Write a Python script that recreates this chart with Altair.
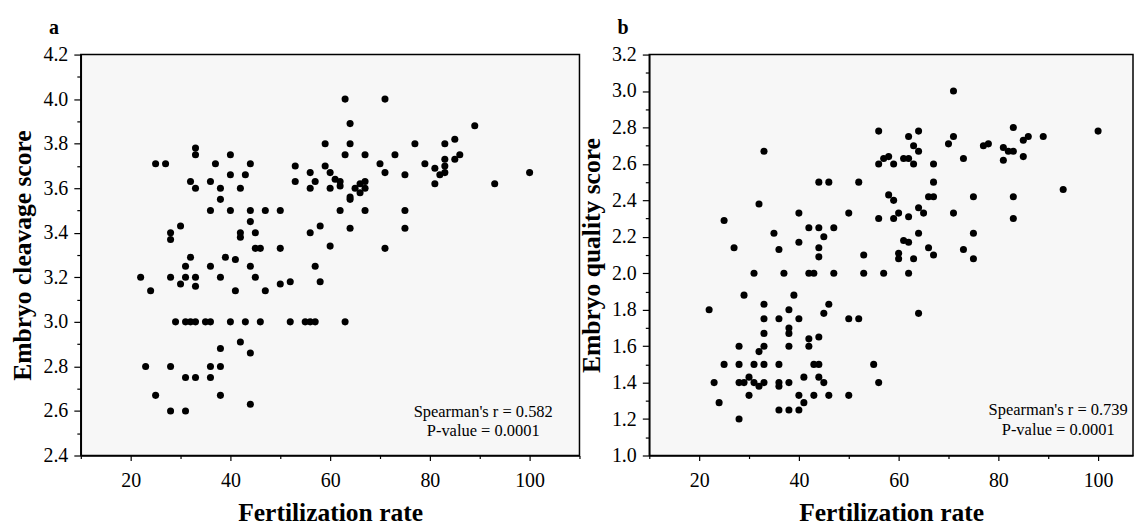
import altair as alt
import pandas as pd

FONT = "Liberation Serif"

# ---------------- Panel a : Fertilization rate vs Embryo cleavage score ----------------
a_fert = [25, 27, 33, 33, 37, 40, 44, 32, 33, 36, 38, 38, 40, 43, 42,
          36, 40, 44, 47, 50, 44, 45, 42, 42, 45, 46, 50, 28, 28, 30,
          53, 53, 32, 39, 41, 22, 24, 28, 30, 31, 31, 33, 33, 36, 38,
          41, 44, 45, 47, 50, 52,
          29, 31, 32, 33, 35, 36, 40, 43, 46, 52,
          42, 38, 44, 23, 28, 36, 38, 31, 33, 36, 25, 38, 44, 28, 31,
          63, 71, 64, 89, 59, 64, 77, 83, 85, 63, 67, 73, 86, 83, 85,
          59, 70, 79, 83, 81, 60, 56, 71, 82, 83, 75, 100, 57, 56, 61,
          62, 62, 60, 67, 66, 65, 67, 66, 64, 64, 81, 93, 62, 67, 75,
          58, 56, 64, 75, 60, 71, 57, 58,
          55, 56, 57, 63]
a_score = [3.71, 3.71, 3.78, 3.75, 3.71, 3.75, 3.71, 3.63, 3.60, 3.63, 3.60, 3.55, 3.66, 3.66, 3.60,
           3.50, 3.50, 3.50, 3.50, 3.50, 3.45, 3.40, 3.40, 3.38, 3.33, 3.33, 3.33, 3.40, 3.37, 3.43,
           3.70, 3.63, 3.29, 3.29, 3.28, 3.20, 3.14, 3.20, 3.17, 3.20, 3.25, 3.20, 3.16, 3.25, 3.20,
           3.14, 3.25, 3.20, 3.14, 3.17, 3.18,
           3.00, 3.00, 3.00, 3.00, 3.00, 3.00, 3.00, 3.00, 3.00, 3.00,
           2.91, 2.88, 2.86, 2.80, 2.80, 2.80, 2.80, 2.75, 2.75, 2.75, 2.67, 2.67, 2.63, 2.60, 2.60,
           4.00, 4.00, 3.89, 3.88, 3.80, 3.80, 3.80, 3.80, 3.82, 3.75, 3.75, 3.75, 3.75, 3.73, 3.73,
           3.70, 3.71, 3.71, 3.70, 3.69, 3.67, 3.67, 3.67, 3.66, 3.67, 3.66, 3.67, 3.63, 3.60, 3.64,
           3.63, 3.61, 3.60, 3.63, 3.62, 3.60, 3.60, 3.58, 3.56, 3.55, 3.62, 3.62, 3.50, 3.50, 3.50,
           3.43, 3.40, 3.42, 3.42, 3.34, 3.33, 3.25, 3.18,
           3.00, 3.00, 3.00, 3.00]

# ---------------- Panel b : Fertilization rate vs Embryo quality score ----------------
b_fert = [33, 25, 27, 32, 35, 36, 40, 40, 42, 44, 44, 46, 44, 44, 45, 47, 50, 52,
          31, 37, 42, 43, 47,
          29, 39, 22, 33, 38, 46, 45,
          33, 36, 40, 50, 52,
          38, 38, 33, 44, 42,
          28, 33, 38, 42,
          32,
          25, 28, 31, 33, 36, 43, 44,
          23, 28, 29, 31, 33, 36, 38, 30, 32, 36, 41, 44, 45,
          30, 40, 43, 46, 50,
          24, 41,
          36, 38, 40,
          28,
          71, 56, 64, 100, 83, 62, 71, 89, 86, 85, 63, 64, 70, 77, 78, 81, 82, 83, 81, 85,
          57, 58, 56, 59, 61, 62, 63, 67, 73, 67, 58, 59, 66, 67, 75, 83, 93, 56, 59, 60,
          62, 64, 65, 71, 83, 64, 75, 61, 62, 53, 60, 60, 63, 66, 67, 73, 75,
          53, 57, 62, 64, 55, 56]
b_score = [2.67, 2.29, 2.14, 2.38, 2.22, 2.13, 2.33, 2.17, 2.25, 2.25, 2.50, 2.50, 2.14, 2.09, 2.20, 2.25, 2.33, 2.50,
           2.00, 2.00, 2.00, 2.00, 2.00,
           1.88, 1.88, 1.80, 1.83, 1.80, 1.83, 1.78,
           1.75, 1.75, 1.75, 1.75, 1.75,
           1.70, 1.67, 1.67, 1.65, 1.64,
           1.60, 1.60, 1.60, 1.60,
           1.57,
           1.50, 1.50, 1.50, 1.50, 1.50, 1.50, 1.50,
           1.40, 1.40, 1.40, 1.40, 1.40, 1.40, 1.40, 1.43, 1.38, 1.38, 1.43, 1.43, 1.40,
           1.33, 1.33, 1.33, 1.33, 1.33,
           1.29, 1.29,
           1.25, 1.25, 1.25,
           1.20,
           3.00, 2.78, 2.78, 2.78, 2.80, 2.75, 2.75, 2.75, 2.75, 2.73, 2.70, 2.67, 2.71, 2.70, 2.71, 2.69, 2.67, 2.67, 2.62, 2.64,
           2.63, 2.64, 2.60, 2.60, 2.63, 2.63, 2.60, 2.60, 2.63, 2.50, 2.43, 2.40, 2.42, 2.42, 2.42, 2.42, 2.46, 2.30, 2.30, 2.33,
           2.31, 2.36, 2.33, 2.33, 2.30, 2.22, 2.22, 2.18, 2.17, 2.10, 2.11, 2.08, 2.08, 2.14, 2.10, 2.13, 2.08,
           2.00, 2.00, 2.00, 1.78, 1.50, 1.40]

# ---------------- axes / annotations ----------------
a_x_domain = [10, 110]
b_x_domain = [10, 107]
x_ticks = [10, 20, 30, 40, 50, 60, 70, 80, 90, 100, 110]
a_domain = [2.4, 4.2]
a_ticks = [2.4, 2.5, 2.6, 2.7, 2.8, 2.9, 3.0, 3.1, 3.2, 3.3, 3.4, 3.5, 3.6, 3.7, 3.8, 3.9, 4.0, 4.1, 4.2]
b_domain = [1.0, 3.2]
b_ticks = [1.0, 1.1, 1.2, 1.3, 1.4, 1.5, 1.6, 1.7, 1.8, 1.9, 2.0, 2.1, 2.2, 2.3, 2.4, 2.5, 2.6, 2.7, 2.8,
           2.9, 3.0, 3.1, 3.2]

a_ann_text = ["Spearman's r = 0.582", "P-value = 0.0001"]
a_ann_x = [90.7, 90.7]
a_ann_y = [2.595, 2.508]
b_ann_text = ["Spearman's r = 0.739", "P-value = 0.0001"]
b_ann_x = [92, 92]
b_ann_y = [1.249, 1.140]


def panel(fert, score, ann_x, ann_y, ann_text, letter, ytitle, xdom, ydom, yticks, width):
    df = pd.DataFrame({"fert": fert, "score": score})
    ann = pd.DataFrame({"fert": ann_x, "score": ann_y, "t": ann_text})
    xenc = alt.X(
        "fert:Q",
        scale=alt.Scale(domain=xdom, nice=False, zero=False),
        axis=alt.Axis(
            values=x_ticks,
            labelExpr="datum.value % 20 == 0 ? datum.label : ''",
            tickSize={"condition": {"test": "datum.value % 20 == 0", "value": 5}, "value": 3},
            labelPadding=10,
            titlePadding=10,
            labelOverlap=False,
            title="Fertilization rate",
        ),
    )
    yenc = alt.Y(
        "score:Q",
        scale=alt.Scale(domain=ydom, nice=False, zero=False),
        axis=alt.Axis(
            values=yticks,
            labelExpr="round(datum.value*10) % 2 == 0 ? format(datum.value, '.1f') : ''",
            tickSize={"condition": {"test": "round(datum.value*10) % 2 == 0", "value": 7}, "value": 4},
            labelPadding=6,
            titlePadding=7,
            labelOverlap=False,
            labelFlush=False,
            title=ytitle,
        ),
    )
    pts = alt.Chart(df).mark_circle(size=50, color="black", opacity=1).encode(x=xenc, y=yenc)
    txt = alt.Chart(ann).mark_text(font=FONT, fontSize=16.5, color="black",
                                   align="center", baseline="middle").encode(
        x=xenc, y=yenc, text="t:N")
    return alt.layer(pts, txt).properties(
        width=width, height=402,
        title=alt.TitleParams(text=letter, anchor="start", frame="group", font=FONT,
                              fontSize=20, fontWeight="bold", color="black",
                              dx=-32, dy=30, offset=21, baseline="alphabetic"),
    )


pa = panel(a_fert, a_score, a_ann_x, a_ann_y, a_ann_text, "a", "Embryo cleavage score",
           a_x_domain, a_domain, a_ticks, 500)
pb = panel(b_fert, b_score, b_ann_x, b_ann_y, b_ann_text, "b", "Embryo quality score",
           b_x_domain, b_domain, b_ticks, 485)

chart = alt.hconcat(pa, pb, spacing=70, bounds="flush").properties(
    padding={"left": 2, "top": 8, "right": 0, "bottom": 0}
).configure_view(
    fill="#f7f7f7", stroke="black", strokeWidth=1.5
).configure_axis(
    grid=False,
    labelOverlap=False,
    domainColor="black", domainWidth=1.5,
    tickColor="black", tickWidth=1.2,
    labelFont=FONT, labelFontSize=20, labelColor="black",
    titleFont=FONT, titleFontSize=25.6, titleFontWeight="bold", titleColor="black",
)

chart.save("out.html", embed_options={"renderer": "svg", "actions": False})
